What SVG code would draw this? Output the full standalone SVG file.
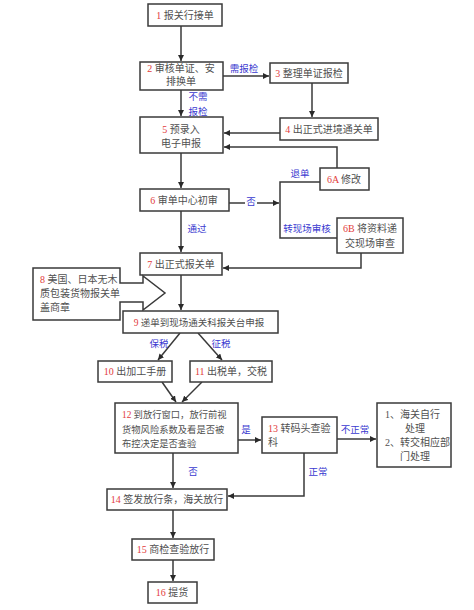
<svg xmlns="http://www.w3.org/2000/svg" width="474" height="610" viewBox="0 0 474 610">
<style>
.box{fill:#fff;stroke:#3a3a3a;stroke-width:1.5}
.t{font-family:"Liberation Serif","Noto Sans CJK SC",serif;font-size:10px;fill:#505050}
.n{fill:#e23b3b}
.lb{font-family:"Noto Sans CJK SC",sans-serif;font-size:9.5px;fill:#3a3ad0}
.ln{fill:none;stroke:#3a3a3a;stroke-width:1.5}
</style>
<defs>
<marker id="ah" viewBox="0 0 8 8" refX="8" refY="4" markerWidth="6" markerHeight="6" orient="auto" markerUnits="userSpaceOnUse">
<path d="M0,0 L8,4 L0,8 Z" fill="#2a2a2a"/>
</marker>
</defs>
<rect width="474" height="610" fill="#fff"/>

<g id="connectors">
<path class="ln" d="M181,26 V61" marker-end="url(#ah)"/>
<path class="ln" d="M223,76 H269" marker-end="url(#ah)"/>
<path class="ln" d="M312,83 V117" marker-end="url(#ah)"/>
<path class="ln" d="M181,90 V116" marker-end="url(#ah)"/>
<path class="ln" d="M280,133 H224" marker-end="url(#ah)"/>
<path class="ln" d="M337,168 V147 H224" marker-end="url(#ah)"/>
<path class="ln" d="M181,153 V188" marker-end="url(#ah)"/>
<path class="ln" d="M229,203 H279" marker-end="url(#ah)"/>
<path class="ln" d="M320,182 H280 V238 H337"/>
<path class="ln" d="M361,253 V268 H223" marker-end="url(#ah)"/>
<path class="ln" d="M181,211 V252" marker-end="url(#ah)"/>
<path class="ln" d="M181,275 V310" marker-end="url(#ah)"/>
<path class="ln" d="M180,333 L158,360" marker-end="url(#ah)"/>
<path class="ln" d="M198,333 L222,360" marker-end="url(#ah)"/>
<path class="ln" d="M162,382 L176,402" marker-end="url(#ah)"/>
<path class="ln" d="M202,382 L182,402" marker-end="url(#ah)"/>
<path class="ln" d="M238,440 H261" marker-end="url(#ah)"/>
<path class="ln" d="M337,439 H376" marker-end="url(#ah)"/>
<path class="ln" d="M173,453 V488" marker-end="url(#ah)"/>
<path class="ln" d="M304,453 V496 H228" marker-end="url(#ah)"/>
<path class="ln" d="M173,510 V538" marker-end="url(#ah)"/>
<path class="ln" d="M173,560 V581" marker-end="url(#ah)"/>
<text class="lb" x="244" y="72" text-anchor="middle">需报检</text>
<text class="lb" x="198" y="100" text-anchor="middle">不需</text>
<text class="lb" x="198" y="115" text-anchor="middle">报检</text>
<text class="lb" x="300" y="177" text-anchor="middle">退单</text>
<rect x="245" y="195" width="12" height="12" fill="#fff"/>
<text class="lb" x="251" y="205" text-anchor="middle">否</text>
<text class="lb" x="307" y="232" text-anchor="middle">转现场审核</text>
<text class="lb" x="197" y="232" text-anchor="middle">通过</text>
<text class="lb" x="159" y="347" text-anchor="middle">保税</text>
<text class="lb" x="221" y="347" text-anchor="middle">征税</text>
<text class="lb" x="246" y="433" text-anchor="middle">是</text>
<text class="lb" x="355" y="433" text-anchor="middle">不正常</text>
<text class="lb" x="193" y="475" text-anchor="middle">否</text>
<text class="lb" x="318" y="475" text-anchor="middle">正常</text>
</g>

<g id="n1"><rect class="box" x="148" y="4" width="74" height="22"/>
<text class="t" x="185" y="19" text-anchor="middle"><tspan class="n">1</tspan> 报关行接单</text></g>

<g id="n2"><rect class="box" x="140" y="62" width="83" height="28"/>
<text class="t" x="181" y="72" text-anchor="middle"><tspan class="n">2</tspan> 审核单证、安</text>
<text class="t" x="181" y="85" text-anchor="middle">排换单</text></g>

<g id="n3"><rect class="box" x="270" y="63" width="78" height="20"/>
<text class="t" x="309" y="77" text-anchor="middle"><tspan class="n">3</tspan> 整理单证报检</text></g>

<g id="n4"><rect class="box" x="280" y="118" width="98" height="22"/>
<text class="t" x="329" y="133" text-anchor="middle"><tspan class="n">4</tspan> 出正式进境通关单</text></g>

<g id="n5"><rect class="box" x="140" y="117" width="83" height="36"/>
<text class="t" x="181" y="133" text-anchor="middle"><tspan class="n">5</tspan> 预录入</text>
<text class="t" x="181" y="147" text-anchor="middle">电子申报</text></g>

<g id="n6a"><rect class="box" x="320" y="168" width="49" height="22"/>
<text class="t" x="344" y="183" text-anchor="middle"><tspan class="n">6A</tspan> 修改</text></g>

<g id="n6"><rect class="box" x="140" y="189" width="89" height="22"/>
<text class="t" x="184" y="204" text-anchor="middle"><tspan class="n">6</tspan> 审单中心初审</text></g>

<g id="n6b"><rect class="box" x="337" y="218" width="66" height="35"/>
<text class="t" x="370" y="232" text-anchor="middle"><tspan class="n">6B</tspan> 将资料递</text>
<text class="t" x="370" y="247" text-anchor="middle">交现场审查</text></g>

<g id="n7"><rect class="box" x="140" y="253" width="82" height="22"/>
<text class="t" x="181" y="268" text-anchor="middle"><tspan class="n">7</tspan> 出正式报关单</text></g>

<g id="n8"><path class="box" d="M33,268 H120 V283 H143 V276 L165,293 L143,310 V302 H120 V320 H33 Z"/>
<text class="t" x="40" y="283"><tspan class="n">8</tspan> 美国、日本无木</text>
<text class="t" x="40" y="297">质包装货物报关单</text>
<text class="t" x="40" y="311">盖商章</text></g>

<g id="n9"><rect class="box" x="123" y="311" width="155" height="22"/>
<text class="t" x="199" y="326" text-anchor="middle" style="font-size:9.5px"><tspan class="n">9</tspan> 递单到现场通关科报关台申报</text></g>

<g id="n10"><rect class="box" x="98" y="361" width="74" height="21"/>
<text class="t" x="135" y="375" text-anchor="middle"><tspan class="n">10</tspan> 出加工手册</text></g>

<g id="n11"><rect class="box" x="190" y="361" width="82" height="21"/>
<text class="t" x="231" y="375" text-anchor="middle"><tspan class="n">11</tspan> 出税单，交税</text></g>

<g id="n12"><rect class="box" x="115" y="403" width="123" height="50"/>
<text class="t" x="122" y="418" style="font-size:9.3px"><tspan class="n">12</tspan> 到放行窗口，放行前视</text>
<text class="t" x="122" y="433" style="font-size:9.3px">货物风险系数及看是否被</text>
<text class="t" x="122" y="447" style="font-size:9.3px">布控决定是否查验</text></g>

<g id="n13"><rect class="box" x="262" y="417" width="75" height="36"/>
<text class="t" x="268" y="432"><tspan class="n">13</tspan> 转码头查验</text>
<text class="t" x="268" y="446">科</text></g>

<g id="n13b"><rect class="box" x="377" y="403" width="74" height="64"/>
<text class="t" x="385" y="418">1、海关自行</text>
<text class="t" x="405" y="432">处理</text>
<text class="t" x="385" y="446">2、转交相应部</text>
<text class="t" x="400" y="460">门处理</text></g>

<g id="n14"><rect class="box" x="107" y="489" width="120" height="21"/>
<text class="t" x="167" y="503" text-anchor="middle"><tspan class="n">14</tspan> 签发放行条，海关放行</text></g>

<g id="n15"><rect class="box" x="132" y="539" width="82" height="21"/>
<text class="t" x="173" y="553" text-anchor="middle"><tspan class="n">15</tspan> 商检查验放行</text></g>

<g id="n16"><rect class="box" x="148" y="582" width="49" height="21"/>
<text class="t" x="172" y="596" text-anchor="middle"><tspan class="n">16</tspan> 提货</text></g>
</svg>
